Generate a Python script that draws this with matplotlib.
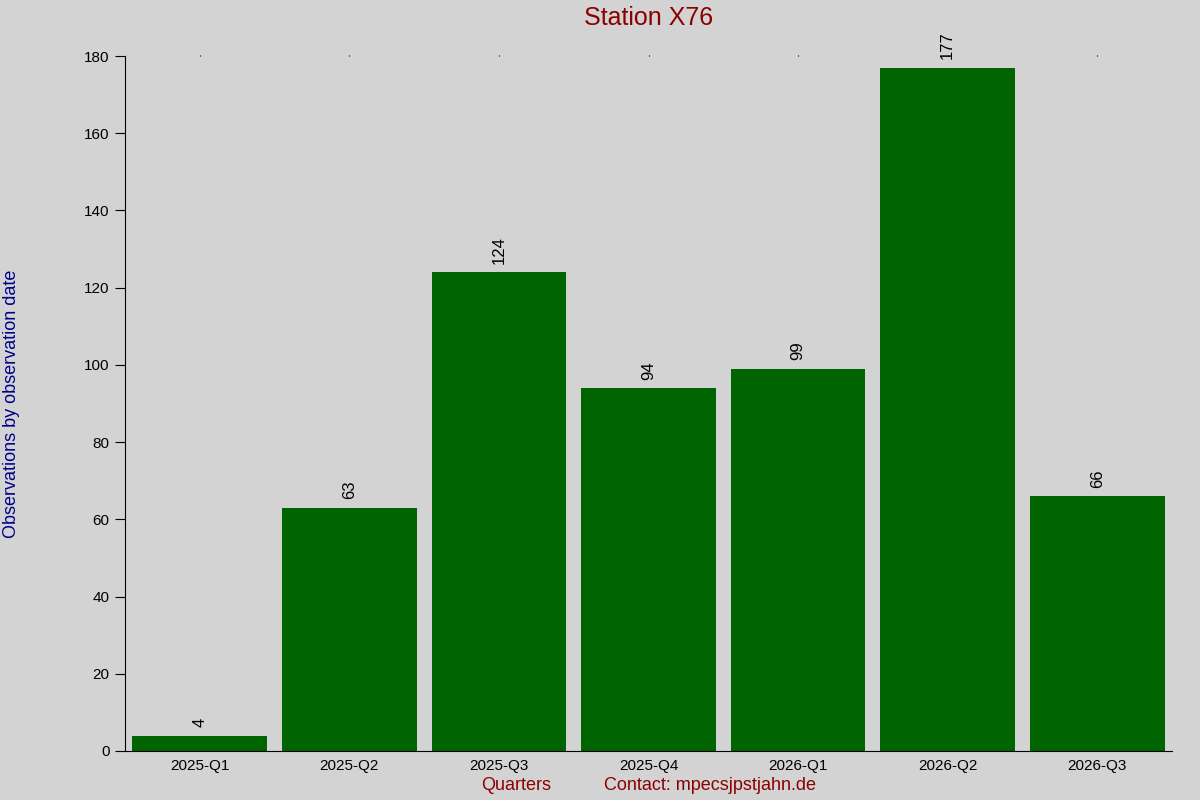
import matplotlib
matplotlib.use("Agg")
import matplotlib.pyplot as plt

quarters = ["2025-Q1", "2025-Q2", "2025-Q3", "2025-Q4", "2026-Q1", "2026-Q2", "2026-Q3"]
counts = [4, 63, 124, 94, 99, 177, 66]

plt.rcParams["font.family"] = ["Liberation Sans", "DejaVu Sans"]
bg = "#d3d3d3"

fig = plt.figure(figsize=(12, 8), dpi=100, facecolor=bg)
ax = fig.add_axes([125 / 1200, 49 / 800, 1047 / 1200, 695 / 800], facecolor=bg)

x = list(range(len(quarters)))
bars = ax.bar(x, counts, width=0.9, color="#006400")
for xi, v in zip(x, counts):
    ax.annotate(str(v), (xi, v), xytext=(0, 6), textcoords="offset points",
                rotation=90, ha="center", va="bottom", fontsize=12)

ax.set_xlim(-0.5, 6.5)
ax.set_ylim(0, 180)
ax.set_yticks(range(0, 181, 20))
ax.set_xticks(x)
ax.set_xticklabels(quarters, fontsize=11)
ax.tick_params(axis="y", labelsize=11, length=7, direction="out", pad=4)
ax.tick_params(axis="x", bottom=False, top=True, length=1, width=0.8, pad=5)
for s in ["top", "right"]:
    ax.spines[s].set_visible(False)

ax.set_title("Station X76", color="#8b0000", fontsize=18, pad=22)
ax.set_ylabel("Observations by observation date", color="#00008b", fontsize=13)
ax.yaxis.set_label_coords(-0.100, 0.5)
fig.text(516 / 1200, 1 - 786 / 800, "Quarters", color="#8b0000", fontsize=13,
         ha="center", va="center")
fig.text(710 / 1200, 1 - 786 / 800, "Contact: mpecsjpstjahn.de", color="#8b0000",
         fontsize=13, ha="center", va="center")

fig.savefig("out.png", dpi=100, facecolor=bg)
